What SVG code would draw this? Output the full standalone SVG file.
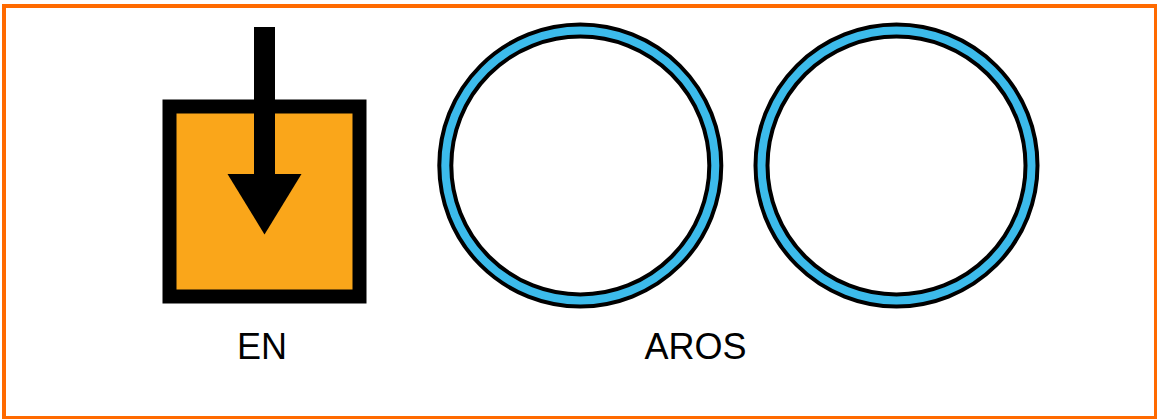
<svg xmlns="http://www.w3.org/2000/svg" width="1157" height="419" viewBox="0 0 1157 419">
<style>
.lbl{font-family:"Liberation Sans",Arial,sans-serif;font-size:36px;fill:#000;text-anchor:middle}
.ringO{fill:#fff;stroke:#000;stroke-width:16}
.ringI{fill:none;stroke:#3cbbeb;stroke-width:8}
</style>
<rect x="0" y="0" width="1157" height="419" fill="#fff"/>
<rect x="4" y="6" width="1152" height="412" fill="none" stroke="#ff6a00" stroke-width="4"/>
<g id="en">
<rect x="169.5" y="106.5" width="190" height="190" fill="#faa61a" stroke="#000" stroke-width="14"/>
<rect x="254" y="27" width="21" height="150" fill="#000"/>
<polygon points="227.5,174 301.5,174 264.5,234.5" fill="#000"/>
<text class="lbl" x="262" y="358.5">EN</text>
</g>
<g id="aro1">
<circle class="ringO" cx="580.3" cy="165.5" r="135"/>
<circle class="ringI" cx="580.3" cy="165.5" r="135"/>
</g>
<g id="aro2">
<circle class="ringO" cx="896.5" cy="165.5" r="135"/>
<circle class="ringI" cx="896.5" cy="165.5" r="135"/>
</g>
<g id="aros-label">
<text class="lbl" x="695.5" y="358.5">AROS</text>
</g>
<g id="connectors"></g>
</svg>
